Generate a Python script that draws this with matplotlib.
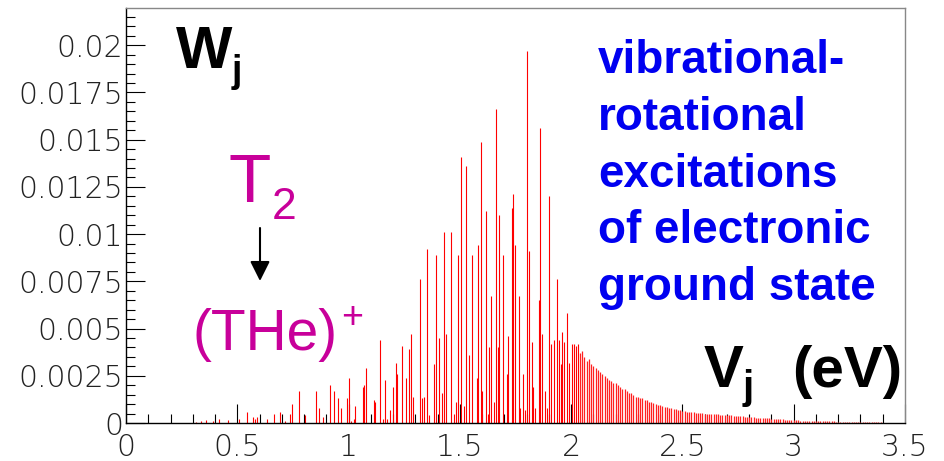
import matplotlib
matplotlib.use('Agg')
import matplotlib.pyplot as plt
from matplotlib.ticker import MultipleLocator

# ---------------- data ----------------
line_energy = [
    0.314, 0.337, 0.360, 0.390, 0.420, 0.457, 0.509, 0.542, 0.572, 0.581,
    0.589, 0.632, 0.665, 0.690, 0.714, 0.737, 0.747, 0.777, 0.804, 0.852,
    0.866, 0.884, 0.915, 0.933, 0.951, 0.966, 0.994, 1.000, 1.011, 1.024,
    1.030, 1.063, 1.071, 1.080, 1.113, 1.119, 1.141, 1.156, 1.162, 1.171,
    1.185, 1.201, 1.213, 1.219, 1.241, 1.259, 1.270, 1.282, 1.291, 1.321,
    1.328, 1.340, 1.354, 1.363, 1.385, 1.391, 1.407, 1.421, 1.430, 1.439,
    1.459, 1.472, 1.482, 1.493, 1.506, 1.520, 1.529, 1.542, 1.556, 1.575,
    1.583, 1.596, 1.600, 1.616, 1.626, 1.632, 1.641, 1.653, 1.662, 1.673,
    1.677, 1.695, 1.710, 1.717, 1.733, 1.740, 1.749, 1.764, 1.770, 1.782,
    1.793, 1.800, 1.812, 1.824, 1.828, 1.839, 1.855, 1.860, 1.870, 1.884,
    1.890, 1.902, 1.909, 1.923, 1.935, 1.947, 1.953, 1.960, 1.969, 1.980,
    1.990, 2.002, 2.012, 2.021, 2.032,
]
line_weight = [
    0.00004, 0.0001, 0.00014, 0.0001, 0.0002, 0.00015, 0.0002, 0.0006, 0.0003, 0.0002,
    0.0003, 0.0002, 0.0005, 0.0006, 0.0001, 0.0005, 0.0010, 0.0017, 0.0004, 0.0017,
    0.0008, 0.0003, 0.0020, 0.0017, 0.0013, 0.0008, 0.0013, 0.0024, 0.0001, 0.0002,
    0.0009, 0.0019, 0.0020, 0.0029, 0.0012, 0.0011, 0.0044, 0.0002, 0.0023, 0.0002,
    0.0007, 0.0019, 0.0032, 0.0026, 0.0041, 0.0024, 0.0039, 0.0047, 0.0014, 0.0076,
    0.0013, 0.0014, 0.0092, 0.0004, 0.0031, 0.0089, 0.0045, 0.0016, 0.0101, 0.0047,
    0.0101, 0.0005, 0.0011, 0.0089, 0.0141, 0.0009, 0.0136, 0.0036, 0.0089, 0.0024,
    0.0094, 0.0149, 0.0017, 0.0112, 0.0005, 0.0040, 0.0067, 0.0011, 0.0166, 0.0040,
    0.0110, 0.0089, 0.0026, 0.0046, 0.0114, 0.0121, 0.0094, 0.0067, 0.0008, 0.0026,
    0.0007, 0.0197, 0.0091, 0.0043, 0.0019, 0.0008, 0.0065, 0.0156, 0.0047, 0.0017,
    0.0008, 0.0120, 0.0042, 0.0044, 0.0076, 0.0044, 0.0031, 0.0048, 0.0043, 0.0058,
    0.0032, 0.0042, 0.0042, 0.0041, 0.0042,
]

tail_energy = [
    2.04, 2.05, 2.06, 2.07, 2.08, 2.09, 2.10, 2.11, 2.12, 2.13,
    2.14, 2.15, 2.16, 2.17, 2.18, 2.19, 2.20, 2.21, 2.22, 2.23,
    2.24, 2.25, 2.26, 2.27, 2.28, 2.29, 2.30, 2.31, 2.32, 2.33,
    2.34, 2.35, 2.36, 2.37, 2.38, 2.39, 2.40, 2.41, 2.42, 2.43,
    2.44, 2.45, 2.46, 2.47, 2.48, 2.49, 2.50, 2.51, 2.52, 2.53,
    2.54, 2.55, 2.56, 2.57, 2.58, 2.59, 2.60, 2.61, 2.62, 2.63,
    2.64, 2.65, 2.66, 2.67, 2.68, 2.69, 2.70, 2.71, 2.72, 2.73,
    2.74, 2.75, 2.76, 2.77, 2.78, 2.79, 2.80, 2.81, 2.82, 2.83,
    2.84, 2.85, 2.86, 2.87, 2.88, 2.89, 2.90, 2.91, 2.92, 2.93,
    2.94, 2.95, 2.96, 2.97, 2.98, 2.99, 3.00, 3.01, 3.02, 3.03,
    3.04, 3.05, 3.06, 3.07, 3.08, 3.09, 3.10, 3.11, 3.12, 3.13,
    3.14, 3.15, 3.16, 3.17, 3.18, 3.19, 3.20, 3.21, 3.22, 3.23,
    3.24, 3.25, 3.26, 3.27, 3.28, 3.29, 3.30, 3.31, 3.32, 3.33,
    3.34, 3.35, 3.36, 3.37, 3.38, 3.39, 3.40, 3.41, 3.42, 3.43,
    3.44, 3.45,
]
tail_weight = [
    0.0037, 0.0038, 0.0035, 0.0033, 0.0034, 0.0031, 0.0030, 0.0029, 0.0028, 0.0027,
    0.0026, 0.0025, 0.0024, 0.0023, 0.0022, 0.0021, 0.0021, 0.0020, 0.0019, 0.0018,
    0.0018, 0.0017, 0.0016, 0.0016, 0.0015, 0.0014, 0.0014, 0.0013, 0.0013, 0.0012,
    0.0012, 0.0011, 0.0011, 0.00105, 0.0010, 0.00097, 0.00094, 0.0009, 0.00087, 0.00084,
    0.00081, 0.00078, 0.00075, 0.00072, 0.0007, 0.00067, 0.00065, 0.00062, 0.0006, 0.00059,
    0.00057, 0.00056, 0.00055, 0.00054, 0.00053, 0.00052, 0.0005, 0.00049, 0.00048, 0.00047,
    0.00046, 0.00046, 0.00045, 0.00044, 0.00043, 0.00042, 0.00041, 0.0004, 0.0004, 0.00039,
    0.00038, 0.00037, 0.00036, 0.00035, 0.00034, 0.00033, 0.00032, 0.00031, 0.0003, 0.00029,
    0.00028, 0.00027, 0.00027, 0.00026, 0.00025, 0.00024, 0.00023, 0.00022, 0.00021, 0.0002,
    0.0002, 0.00019, 0.00018, 0.00017, 0.00016, 0.00016, 0.00015, 0.00014, 0.00014, 0.00013,
    0.00013, 0.00012, 0.00012, 0.00011, 0.00011, 0.0001, 0.0001, 0.0001, 0.00009, 0.00009,
    0.00009, 0.00008, 0.00008, 0.00008, 0.00008, 0.00007, 0.00007, 0.00007, 0.00006, 0.00006,
    0.00006, 0.00006, 0.00005, 0.00005, 0.00005, 0.00005, 0.00004, 0.00004, 0.00004, 0.00004,
    0.00004, 0.00003, 0.00003, 0.00003, 0.00003, 0.00003, 0.00002, 0.00002, 0.00002, 0.00002,
    0.00002, 0.00002,
]

x_ticks = [0, 0.5, 1, 1.5, 2, 2.5, 3, 3.5]
x_tick_labels = ['0', '0.5', '1', '1.5', '2', '2.5', '3', '3.5']
y_ticks = [0, 0.0025, 0.005, 0.0075, 0.01, 0.0125, 0.015, 0.0175, 0.02]
y_tick_labels = ['0', '0.0025', '0.005', '0.0075', '0.01', '0.0125', '0.015', '0.0175', '0.02']

# ---------------- figure ----------------
W, H = 944, 461
fig = plt.figure(figsize=(W / 100, H / 100), dpi=100)
L, R, B, T = 126, 905, 423, 8
ax = fig.add_axes([L / W, 1 - B / H, (R - L) / W, (B - T) / H])

ax.vlines(line_energy, 0, line_weight, colors='#ff0000', lw=0.8)
ax.vlines(tail_energy, 0, tail_weight, colors='#ff2020', lw=0.9)

ax.set_xlim(0, 3.5)
ax.set_ylim(0, 0.02197)
ax.set_xticks(x_ticks)
ax.set_xticklabels(x_tick_labels)
ax.set_yticks(y_ticks)
ax.set_yticklabels(y_tick_labels)
ax.xaxis.set_minor_locator(MultipleLocator(0.1))
ax.yaxis.set_minor_locator(MultipleLocator(0.0005))

for lab in ax.get_xticklabels() + ax.get_yticklabels():
    lab.set_fontfamily('DejaVu Sans')
    lab.set_fontweight('light')

ax.tick_params(which='major', direction='in', length=13.7, width=0.8,
               labelsize=21.5, top=False, right=False, labelcolor='#222222')
ax.tick_params(which='minor', direction='in', length=6.8, width=0.8,
               top=False, right=False)
ax.tick_params(axis='y', which='major', pad=2)
ax.tick_params(axis='x', which='major', pad=7)

for s in ['left', 'bottom']:
    ax.spines[s].set_color('black')
    ax.spines[s].set_linewidth(1.0)
for s in ['top', 'right']:
    ax.spines[s].set_color('#888888')
    ax.spines[s].set_linewidth(1.0)


def ftext(px, py, s, **kw):
    fig.text(px / W, 1 - py / H, s, va='baseline', ha='left',
             family='Liberation Sans', **kw)


# W_j
ftext(176, 68, 'W', fontsize=43, weight='bold', color='black')
ftext(232, 82, 'j', fontsize=27, weight='bold', color='black')

# T2 -> (THe)+
mag = '#C8009A'
ftext(229, 202, 'T', fontsize=50, color=mag)
ftext(272, 219, '2', fontsize=32, color=mag)
ftext(193, 350, '(THe)', fontsize=41, color=mag)
fig.text(352 / W, 1 - 318 / H, '+', fontsize=27, color=mag,
         family='Liberation Sans', ha='center', va='center')

ax.annotate('', xy=(260, H - 281), xytext=(260, H - 228),
            xycoords='figure pixels', textcoords='figure pixels',
            arrowprops=dict(arrowstyle='-|>,head_length=0.8,head_width=0.4',
                            color='black', lw=1.5, mutation_scale=15,
                            shrinkA=0, shrinkB=0))

# blue description
blue = '#0000F0'
blue_lines = ['vibrational-', 'rotational', 'excitations', 'of electronic', 'ground state']
blue_base = [73, 130, 187, 243, 300]
for txt, yb in zip(blue_lines, blue_base):
    ftext(598, yb, txt, fontsize=33, weight='bold', color=blue)

# V_j (eV)
ftext(704, 387, 'V', fontsize=43, weight='bold', color='black')
ftext(743, 399, 'j', fontsize=29, weight='bold', color='black')
ftext(792, 387, '(eV)', fontsize=42, weight='bold', color='black')

fig.savefig('out.png', dpi=100)
